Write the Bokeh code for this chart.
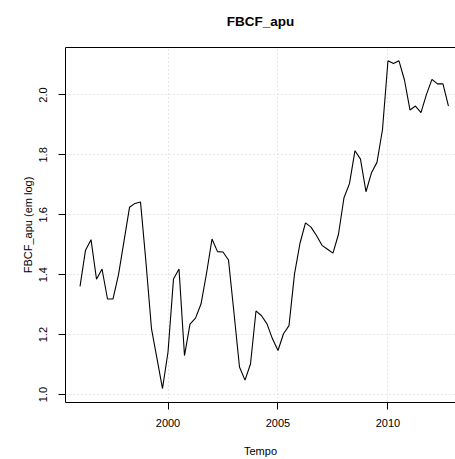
from bokeh.plotting import figure
from bokeh.models import Range1d, FixedTicker, NumeralTickFormatter, LinearAxis
from bokeh.embed import file_html
from bokeh.resources import INLINE

# Quarterly series, 1996 Q1 to 2012 Q4 (log scale values)
inicio = 1996
frequencia = 4
fbcf_apu = [
    1.361, 1.482, 1.517, 1.385, 1.419, 1.319, 1.319, 1.400,
    1.512, 1.625, 1.638, 1.643, 1.440, 1.219, 1.120, 1.020,
    1.142, 1.386, 1.419, 1.130, 1.235, 1.255, 1.302, 1.404,
    1.519, 1.477, 1.476, 1.449, 1.272, 1.092, 1.048, 1.102,
    1.279, 1.263, 1.236, 1.186, 1.147, 1.203, 1.230, 1.402,
    1.505, 1.573, 1.559, 1.531, 1.498, 1.485, 1.472, 1.535,
    1.657, 1.704, 1.814, 1.786, 1.677, 1.740, 1.775, 1.884,
    2.114, 2.105, 2.114, 2.050, 1.950, 1.963, 1.941, 2.002,
    2.052, 2.037, 2.037, 1.963,
]
tempo = [inicio + k / frequencia for k in range(len(fbcf_apu))]

x_ticks = [2000, 2005, 2010]
y_ticks = [1.0, 1.2, 1.4, 1.6, 1.8, 2.0]

FONT = "Liberation Sans"

p = figure(
    width=455, height=459,
    output_backend="svg", toolbar_location=None,
    x_range=Range1d(1995.34, 2013.07),
    y_range=Range1d(0.9734, 2.1585),
    min_border_left=65, min_border_right=0,
    min_border_top=47, min_border_bottom=55,
)
p.background_fill_color = "white"
p.border_fill_color = "white"
p.outline_line_color = None

eixo_x = p.below[0]
eixo_y = p.left[0]

# dotted grid
for g in (p.xgrid, p.ygrid):
    g.grid_line_color = "#d3d3d3"
    g.grid_line_dash = "1 3"
    g.grid_line_width = 1
p.xgrid.ticker = FixedTicker(ticks=x_ticks)
p.ygrid.ticker = FixedTicker(ticks=y_ticks)

# axes
eixo_x.ticker = FixedTicker(ticks=x_ticks)
eixo_y.ticker = FixedTicker(ticks=y_ticks)
eixo_y.formatter = NumeralTickFormatter(format="0.0")
eixo_x.axis_label = "Tempo"
eixo_y.axis_label = "FBCF_apu (em log)"
eixo_y.major_label_orientation = "vertical"
for ax in (eixo_x, eixo_y):
    ax.axis_line_color = "black"
    ax.axis_line_width = 1
    ax.major_tick_line_color = "black"
    ax.major_tick_out = 7
    ax.major_tick_in = 0
    ax.minor_tick_line_color = None
    ax.major_label_text_font = FONT
    ax.major_label_text_font_size = "11px"
    ax.major_label_text_color = "black"
    ax.axis_label_text_font = FONT
    ax.axis_label_text_font_size = "11px"
    ax.axis_label_text_font_style = "normal"
    ax.axis_label_text_color = "black"
eixo_x.major_label_standoff = 9
eixo_x.axis_label_standoff = 15
eixo_y.major_label_standoff = 11
eixo_y.axis_label_standoff = 3

# upper edge of the plot box, carrying the main title as its label
topo = LinearAxis(
    ticker=FixedTicker(ticks=[]),
    axis_label="FBCF_apu",
    axis_label_text_font=FONT,
    axis_label_text_font_size="13.5px",
    axis_label_text_font_style="bold",
    axis_label_text_color="black",
    axis_label_standoff=19,
    axis_line_color="black",
    major_tick_out=0, major_tick_in=0,
    minor_tick_out=0, minor_tick_in=0,
    major_label_standoff=0,
)
p.add_layout(topo, "above")

p.line(tempo, fbcf_apu, line_color="black", line_width=1.1)

open("out.html", "w").write(file_html(p, INLINE))
